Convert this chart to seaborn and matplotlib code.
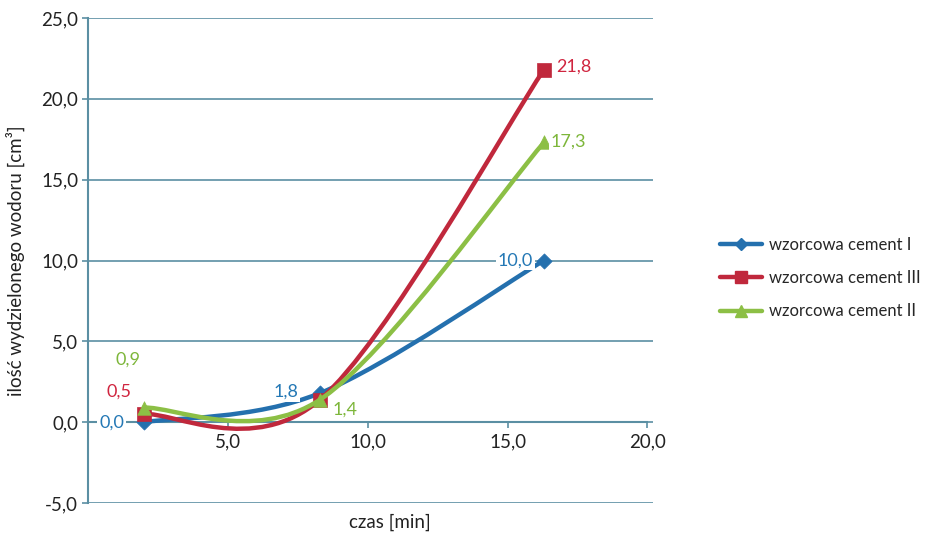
import numpy as np
import pandas as pd
import matplotlib
matplotlib.use('Agg')
import matplotlib.pyplot as plt
from matplotlib.path import Path
from matplotlib.patches import PathPatch
from matplotlib.lines import Line2D
from matplotlib.ticker import FuncFormatter
import seaborn as sns

# data
czas = [2.0, 8.3, 16.3]
cement_1 = [0.0, 1.8, 10.0]
cement_3 = [0.5, 1.4, 21.8]
cement_2 = [0.9, 1.4, 17.3]
names = ['wzorcowa cement I', 'wzorcowa cement III', 'wzorcowa cement II']
colors = ['#2470ae', '#c0283c', '#8cbf45']
text_colors = ['#2478b5', '#d0253f', '#7db63a']
markers = ['D', 's', '^']

sns.set_theme(style='white')
plt.rcParams['font.family'] = ['Lato', 'DejaVu Sans']

df = pd.DataFrame({
    'czas': czas * 3,
    'wodor': cement_1 + cement_3 + cement_2,
    'seria': [n for n in names for _ in czas],
})

axis_col = '#5b8fa3'
fs = 13

fig = plt.figure(figsize=(9.32, 5.38), dpi=100)
ax = fig.add_axes([88 / 932, 35 / 538, 565 / 932, 485 / 538])


def smooth_path(xs, ys):
    # Excel-like smoothed line: cubic bezier segments through the data points
    pts = np.column_stack([xs, ys])
    n = len(pts)
    verts = [pts[0]]
    codes = [Path.MOVETO]
    for i in range(n - 1):
        p0 = pts[max(i - 1, 0)]
        p1 = pts[i]
        p2 = pts[i + 1]
        p3 = pts[min(i + 2, n - 1)]
        verts += [p1 + (p2 - p0) / 6, p2 - (p3 - p1) / 6, p2]
        codes += [Path.CURVE4] * 3
    return Path(verts, codes)


series = [cement_1, cement_3, cement_2]
for i, (name, vals) in enumerate(zip(names, series)):
    ax.add_patch(PathPatch(smooth_path(czas, vals), fill=False,
                           edgecolor=colors[i], lw=3.2, zorder=3 + i,
                           capstyle='round', joinstyle='round'))
    sns.scatterplot(data=df[df['seria'] == name], x='czas', y='wodor',
                    color=colors[i], marker=markers[i],
                    s=95 if markers[i] != 'D' else 60,
                    edgecolor=colors[i], linewidth=0.5,
                    legend=False, ax=ax, zorder=3.5 + i)

# data labels
labels = [
    (0, 0, '0,0', (-20, 0), 'right', 'center'),
    (0, 1, '1,8', (-22, 1), 'right', 'center'),
    (0, 2, '10,0', (-11, 0), 'right', 'center'),
    (1, 0, '0,5', (-25, 22), 'center', 'center'),
    (1, 2, '21,8', (12, 3), 'left', 'center'),
    (2, 0, '0,9', (-16, 48), 'center', 'center'),
    (2, 1, '1,4', (12, -10), 'left', 'center'),
    (2, 2, '17,3', (7, 1), 'left', 'center'),
]
for si, pi, txt, off, ha, va in labels:
    ax.annotate(txt, (czas[pi], series[si][pi]), xytext=off,
                textcoords='offset pixels', ha=ha, va=va,
                fontsize=fs, color=text_colors[si], zorder=10,
                bbox=dict(boxstyle='square,pad=0.1', fc='white', ec='none'))

ax.set_xlim(0, 20.2)
ax.set_ylim(-5, 25)
ax.set_xticks([5, 10, 15, 20])
ax.set_yticks([-5, 0, 5, 10, 15, 20, 25])
fmt = FuncFormatter(lambda v, p: f'{v:.1f}'.replace('.', ','))
ax.xaxis.set_major_formatter(fmt)
ax.yaxis.set_major_formatter(fmt)

ax.yaxis.grid(True, color=axis_col, lw=1.2)
ax.set_axisbelow(True)
for s in ['top', 'right']:
    ax.spines[s].set_visible(False)
ax.spines['left'].set_color(axis_col)
ax.spines['left'].set_linewidth(1.5)
ax.spines['bottom'].set_position(('data', 0))
ax.spines['bottom'].set_color(axis_col)
ax.spines['bottom'].set_linewidth(1.5)
ax.spines['bottom'].set_bounds(0, 20)
ax.tick_params(axis='both', direction='out', length=4, width=1.2,
               color=axis_col, labelsize=fs + 0.5, labelcolor='#222222')
ax.tick_params(axis='y', pad=3, left=True)
ax.tick_params(axis='x', pad=4, bottom=True)

ax.set_xlabel('czas [min]', fontsize=fs + 0.5, color='#222222')
ax.set_ylabel('ilość wydzielonego wodoru [cm³]', fontsize=fs + 0.5, color='#222222')
ax.xaxis.set_label_coords(0.535, -0.022)
ax.yaxis.set_label_coords(-0.112, 0.5)

handles = [Line2D([], [], color=c, lw=3.2, marker=m,
                  markersize=8 if m != 'D' else 6.5)
           for c, m in zip(colors, markers)]
fig.legend(handles, names, loc='center left',
           bbox_to_anchor=(712 / 932, 1 - 278 / 538), frameon=False,
           fontsize=12, handlelength=2.5, labelspacing=1.05, handletextpad=0.4,
           borderpad=0.3, borderaxespad=0.2)

fig.savefig('out.png', dpi=100)
